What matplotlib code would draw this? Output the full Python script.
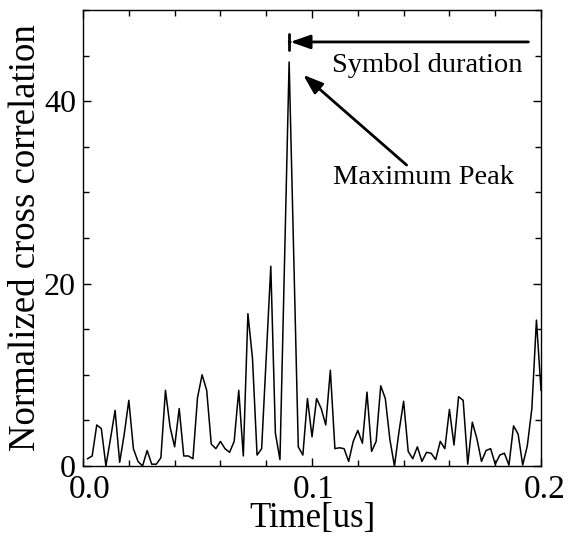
import matplotlib
matplotlib.use("Agg")
import matplotlib.pyplot as plt
from matplotlib.patches import ArrowStyle
from matplotlib.ticker import MultipleLocator
from matplotlib.transforms import ScaledTranslation

plt.rcParams['font.family'] = ['Liberation Serif', 'DejaVu Serif']

# time axis [us], sampled every 0.002 us starting at 0.002
step = 0.002
corr = [0.8, 1.1, 4.5, 4.1, 0.0, 3.0, 6.1, 0.4, 3.5, 7.2,
        1.9, 0.5, 0.0, 1.7, 0.2, 0.2, 0.9, 8.3, 4.3, 2.1,
        6.3, 1.1, 1.1, 0.8, 7.5, 10.0, 8.3, 2.4, 1.9, 2.7,
        1.9, 1.5, 2.7, 8.3, 1.1, 16.7, 11.8, 1.2, 1.9, 11.9,
        21.9, 3.6, 0.7, 22.5, 44.3, 23.2, 2.1, 1.2, 7.4, 3.2,
        7.4, 6.3, 4.5, 10.5, 1.9, 2.0, 1.9, 0.5, 2.7, 3.9,
        2.5, 8.1, 1.6, 2.7, 8.8, 7.4, 2.9, 0.0, 3.8, 7.1,
        1.6, 0.8, 2.1, 0.5, 1.5, 1.4, 0.7, 2.7, 1.9, 6.2,
        2.3, 7.6, 7.2, 0.2, 4.8, 3.0, 0.5, 1.7, 1.9, 0.2,
        1.2, 1.4, 0.1, 4.4, 3.5, 0.1, 2.2, 6.3, 16.0, 8.3]
time = [step * (i + 1) for i in range(len(corr))]

xticks = [0.0, 0.1, 0.2]
xtick_labels = ['0.0', '0.1', '0.2']

fig = plt.figure(figsize=(5.71, 5.36), dpi=100)
ax = fig.add_axes([0.1454, 0.1306, 0.8021, 0.8507])
ax.plot(time, corr, color='black', lw=1.1)

ax.set_xlim(0, 0.2)
ax.set_ylim(0, 50)
ax.set_xticks(xticks)
ax.set_xticklabels(xtick_labels)
ax.xaxis.set_minor_locator(MultipleLocator(0.02))
ax.yaxis.set_major_locator(MultipleLocator(20))
ax.yaxis.set_minor_locator(MultipleLocator(5))
ax.tick_params(which='both', direction='in', top=True, right=True, width=1.0)
ax.tick_params(which='major', length=6)
ax.tick_params(which='minor', length=4)
ax.tick_params(axis='x', labelsize=24, pad=6)
ax.tick_params(axis='y', labelsize=23, pad=5)
for s in ax.spines.values():
    s.set_linewidth(1.0)

# labels sit a bit right of their ticks in the original
shifts = [7, 2, 4]
for lab, dx in zip(ax.get_xticklabels(), shifts):
    lab.set_transform(lab.get_transform() + ScaledTranslation(dx / 100, 0, fig.dpi_scale_trans))

ax.set_xlabel('Time[us]', fontsize=25, labelpad=-2)
ax.set_ylabel('Normalized cross correlation', fontsize=26.5, labelpad=1)

# symbol duration arrow
ax.annotate('', xy=(0.0905, 46.5), xytext=(0.1945, 46.5),
            arrowprops=dict(arrowstyle='-|>,head_length=1.2,head_width=0.42',
                            color='black', lw=2.0, shrinkA=0, shrinkB=0))
ax.annotate('', xy=(0.09, 46.5), xytext=(0.0905, 46.5),
            arrowprops=dict(arrowstyle=ArrowStyle('|-|', widthA=0, widthB=0.6),
                            color='black', lw=2.0, shrinkA=0, shrinkB=0))
ax.text(0.1504, 43.9, 'Symbol duration', fontsize=20.5, ha='center', va='center')

# maximum peak arrow
ax.annotate('', xy=(0.0961, 42.9), xytext=(0.1413, 33.0),
            arrowprops=dict(arrowstyle='-|>,head_length=1.2,head_width=0.42',
                            color='black', lw=2.0, shrinkA=0, shrinkB=0))
ax.text(0.1485, 31.6, 'Maximum Peak', fontsize=20.5, ha='center', va='center')

fig.savefig('out.png', dpi=100)
